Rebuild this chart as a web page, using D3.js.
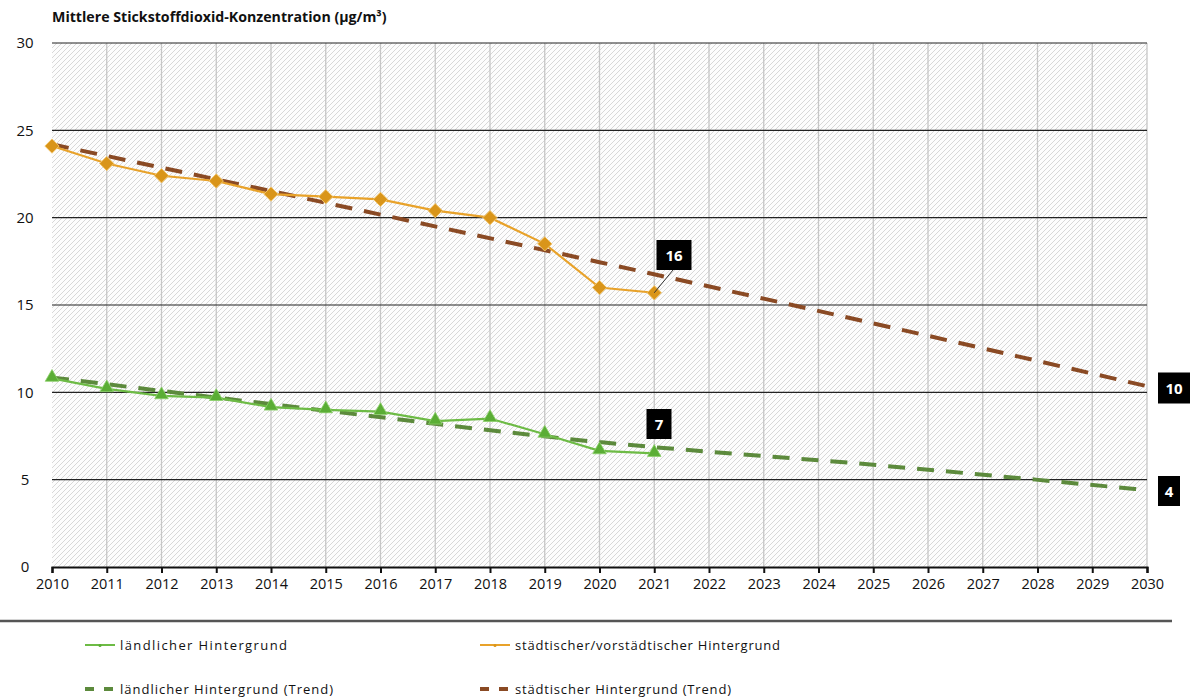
<!DOCTYPE html>
<html lang="de">
<head>
<meta charset="utf-8">
<script src="https://cdn.jsdelivr.net/npm/d3@7"></script>
<style>
  html, body { margin: 0; padding: 0; background: #fff; }
  svg { display: block; }
  .title { font-family: "Open Sans", "Noto Sans", sans-serif; font-weight: 700; font-size: 14.2px; fill: #111; }
  .tick text { font-family: "Open Sans", "Noto Sans", sans-serif; fill: #111; }
  .legend text { font-family: "Open Sans", "Noto Sans", sans-serif; font-size: 13px; fill: #111; }
  .badge text { font-family: "Open Sans", "Noto Sans", sans-serif; font-weight: 700; font-size: 15px; fill: #fff; }
</style>
</head>
<body>
<svg id="chart" width="1190" height="699"></svg>
<script>
// Jahre (Messreihe) und Achsenbeschriftung
const years = [2010, 2011, 2012, 2013, 2014, 2015, 2016, 2017, 2018, 2019, 2020, 2021];
const axisYears = d3.range(2010, 2031);
const yTicks = [0, 5, 10, 15, 20, 25, 30];

// Mittlere NO2-Konzentration (µg/m³)
const urbanValues = [24.1, 23.1, 22.4, 22.1, 21.35, 21.2, 21.05, 20.4, 20.0, 18.5, 16.0, 15.7];
const ruralValues = [10.8, 10.2, 9.8, 9.7, 9.15, 9.0, 8.9, 8.35, 8.5, 7.6, 6.65, 6.5];

// Trendverläufe bis 2030
const trendYears = [2010, 2015, 2020, 2025, 2030];
const urbanTrend = [24.2, 20.85, 17.45, 13.95, 10.35];
const ruralTrend = [10.85, 8.95, 7.15, 5.85, 4.4];

// Beschriftete Werte
const badgeLabels = ["16", "7", "10", "4"];

const svg = d3.select("#chart");
const plotL = 52, plotR = 1147, plotT = 43, plotB = 567;

const x = d3.scaleLinear().domain([2010, 2030]).range([plotL, plotR]);
const y = d3.scaleLinear().domain([0, 30]).range([plotB, plotT]);

// Schraffur des Plotbereichs
const defs = svg.append("defs");
const pat = defs.append("pattern")
  .attr("id", "hatch").attr("patternUnits", "userSpaceOnUse")
  .attr("width", 5).attr("height", 5);
pat.append("rect").attr("width", 5).attr("height", 5).attr("fill", "#fdfdfd");
pat.append("path").attr("d", "M-1,1 l2,-2 M0,5 l5,-5 M4,6 l2,-2")
  .attr("stroke", "#d8d8d8").attr("stroke-width", 1);

svg.append("rect")
  .attr("x", plotL).attr("y", plotT)
  .attr("width", plotR - plotL).attr("height", plotB - plotT)
  .attr("fill", "url(#hatch)");

// Vertikale Gitterlinien
svg.append("g").selectAll("line").data(axisYears.slice(1)).join("line")
  .attr("x1", d => x(d)).attr("x2", d => x(d))
  .attr("y1", plotT).attr("y2", plotB)
  .attr("stroke", "#c6c6c6").attr("stroke-width", 1.3);

// Horizontale Gitterlinien
svg.append("g").selectAll("line").data(yTicks.filter(d => d > 0)).join("line")
  .attr("x1", plotL).attr("x2", plotR)
  .attr("y1", d => y(d)).attr("y2", d => y(d))
  .attr("stroke", "#222").attr("stroke-width", 1.2);

// Y-Achse (nur Beschriftung)
const yAxis = svg.append("g")
  .attr("transform", `translate(${plotL},0)`)
  .call(d3.axisLeft(y).tickValues(yTicks).tickSize(0).tickPadding(27));
yAxis.select(".domain").remove();
yAxis.selectAll("text").attr("font-size", 15).attr("text-anchor", "middle");

// X-Achse
const xAxis = svg.append("g")
  .attr("transform", `translate(0,${plotB})`)
  .call(d3.axisBottom(x).tickValues(axisYears).tickFormat(d3.format("d")).tickSize(6).tickPadding(6));
xAxis.select(".domain").attr("stroke", "#111").attr("stroke-width", 2.2);
xAxis.selectAll(".tick line").attr("stroke", "#111").attr("stroke-width", 2);
xAxis.selectAll("text").attr("font-size", 14.5);

// Trendlinien
const line = d3.line().x(d => x(d[0])).y(d => y(d[1]));
const trendLine = d3.line().x(d => x(d[0])).y(d => y(d[1])).curve(d3.curveMonotoneX);
const trendData = (vals) => trendYears.map((t, i) => [t, vals[i]]);

svg.append("path").datum(trendData(urbanTrend))
  .attr("d", trendLine).attr("fill", "none")
  .attr("stroke", "#8a4a24").attr("stroke-width", 4)
  .attr("stroke-dasharray", "17,12");

svg.append("path").datum(trendData(ruralTrend))
  .attr("d", trendLine).attr("fill", "none")
  .attr("stroke", "#5c8a3c").attr("stroke-width", 4)
  .attr("stroke-dasharray", "17,12");

// Messreihen
const urbanData = years.map((yr, i) => [yr, urbanValues[i]]);
const ruralData = years.map((yr, i) => [yr, ruralValues[i]]);

svg.append("path").datum(urbanData)
  .attr("d", line).attr("fill", "none")
  .attr("stroke", "#e8a22a").attr("stroke-width", 2.2);
svg.append("g").selectAll("path").data(urbanData).join("path")
  .attr("transform", d => `translate(${x(d[0])},${y(d[1])})`)
  .attr("d", d3.symbol(d3.symbolDiamond2, 130))
  .attr("fill", "#d9951a").attr("stroke", "#f2c46a").attr("stroke-width", 1);

svg.append("path").datum(ruralData)
  .attr("d", line).attr("fill", "none")
  .attr("stroke", "#6dbb45").attr("stroke-width", 2.2);
svg.append("g").selectAll("path").data(ruralData).join("path")
  .attr("transform", d => `translate(${x(d[0])},${y(d[1]) - 1})`)
  .attr("d", d3.symbol(d3.symbolTriangle, 80))
  .attr("fill", "#5aad35").attr("stroke", "#8bd16a").attr("stroke-width", 0.8);

// Wertemarken
const badges = [
  { label: badgeLabels[0], cx: 674, cy: 255, w: 35, h: 30, lx: x(2021), ly: y(urbanValues[11]) },
  { label: badgeLabels[1], cx: 659, cy: 424, w: 25, h: 30 },
  { label: badgeLabels[2], cx: 1174, cy: 388, w: 32, h: 31 },
  { label: badgeLabels[3], cx: 1169, cy: 491, w: 22, h: 30 }
];
const bg = svg.append("g").attr("class", "badge");
bg.selectAll("line").data(badges.filter(b => b.lx !== undefined)).join("line")
  .attr("x1", b => b.cx - 1).attr("y1", b => b.cy + b.h / 2)
  .attr("x2", b => b.lx).attr("y2", b => b.ly)
  .attr("stroke", "#333").attr("stroke-width", 1);
bg.selectAll("rect").data(badges).join("rect")
  .attr("x", b => b.cx - b.w / 2).attr("y", b => b.cy - b.h / 2)
  .attr("width", b => b.w).attr("height", b => b.h)
  .attr("fill", "#000");
bg.selectAll("text").data(badges).join("text")
  .attr("x", b => b.cx).attr("y", b => b.cy + 5.5)
  .attr("text-anchor", "middle")
  .text(b => b.label);

// Titel
svg.append("text").attr("class", "title")
  .attr("x", 52).attr("y", 22)
  .text("Mittlere Stickstoffdioxid-Konzentration (µg/m³)");

// Trennlinie über der Legende
svg.append("line")
  .attr("x1", 0).attr("x2", 1172).attr("y1", 621).attr("y2", 621)
  .attr("stroke", "#555").attr("stroke-width", 2.5);

// Legende
const legendItems = [
  { text: "ländlicher Hintergrund", color: "#6dbb45", mark: "#5aad35", type: "line", lx: 85, ly: 645, tw: 167 },
  { text: "städtischer/vorstädtischer Hintergrund", color: "#e8a22a", mark: "#d9951a", type: "line", lx: 480, ly: 645, tw: 265 },
  { text: "ländlicher Hintergrund (Trend)", color: "#5c8a3c", type: "dash", lx: 85, ly: 689, tw: 213 },
  { text: "städtischer Hintergrund (Trend)", color: "#8a4a24", type: "dash", lx: 480, ly: 689, tw: 216 }
];
const lg = svg.append("g").attr("class", "legend");
legendItems.forEach(it => {
  const g = lg.append("g").attr("transform", `translate(${it.lx},${it.ly})`);
  if (it.type === "line") {
    g.append("line").attr("x1", 0).attr("x2", 30).attr("y1", 0).attr("y2", 0)
      .attr("stroke", it.color).attr("stroke-width", 2);
    g.append("circle").attr("cx", 15).attr("cy", 0.5).attr("r", 1.5).attr("fill", it.mark);
  } else {
    g.append("line").attr("x1", 0).attr("x2", 30).attr("y1", 0).attr("y2", 0)
      .attr("stroke", it.color).attr("stroke-width", 4).attr("stroke-dasharray", "9,10");
  }
  g.append("text").attr("x", 35).attr("y", 4.5)
    .attr("textLength", it.tw).attr("lengthAdjust", "spacing")
    .text(it.text);
});
</script>
</body>
</html>
